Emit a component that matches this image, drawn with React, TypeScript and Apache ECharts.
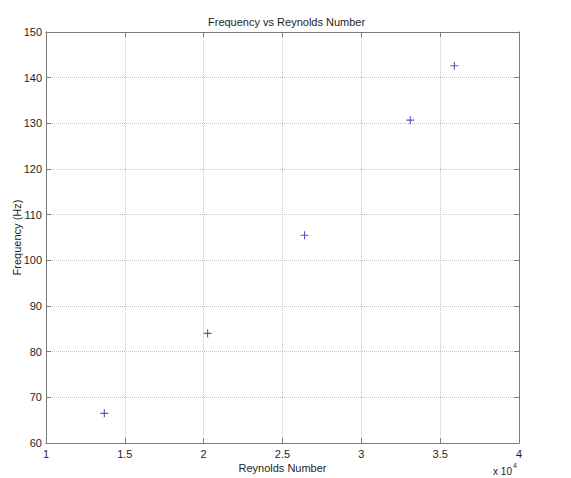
import React, { useEffect, useRef } from "react";
import * as echarts from "echarts";

const titleText = "Frequency vs Reynolds Number";
const xAxisName = "Reynolds Number";
const yAxisName = "Frequency (Hz)";
// Reynolds numbers (raw) and frequencies (Hz)
const reynolds = [13700, 20250, 26400, 33100, 35900];
const frequency = [66.5, 84.0, 105.5, 130.7, 142.6];
const xMin = 10000;
const xMax = 40000;
const xStep = 5000;
const yMin = 60;
const yMax = 150;
const yStep = 10;
const xScaleText = "x 10";
const xScaleExp = "4";

const PLUS = "path://M-0.14,-1H0.14V-0.14H1V0.14H0.14V1H-0.14V0.14H-1V-0.14H-0.14Z";

export default function App() {
  const ref = useRef<HTMLDivElement>(null);
  useEffect(() => {
    if (!ref.current) return;
    const chart = echarts.init(ref.current, undefined, { renderer: "svg" });
    const font = "Liberation Sans, Arial, sans-serif";
    const axisColor = "#7a7a7a";
    const textColor = "#1e1e1e";
    const gridLine = { show: true, lineStyle: { type: "dotted" as const, color: "#c4c4c4", width: 1 } };
    const baseX = {
      type: "value" as const,
      min: xMin,
      max: xMax,
      interval: xStep,
      axisLine: { show: true, onZero: false, lineStyle: { color: axisColor, width: 1 } },
      axisTick: { show: true, inside: true, length: 5, lineStyle: { color: axisColor } },
    };
    const baseY = {
      type: "value" as const,
      min: yMin,
      max: yMax,
      interval: yStep,
      axisLine: { show: true, onZero: false, lineStyle: { color: axisColor, width: 1 } },
      axisTick: { show: true, inside: true, length: 5, lineStyle: { color: axisColor } },
    };
    chart.setOption({
      animation: false,
      backgroundColor: "#ffffff",
      textStyle: { fontFamily: font },
      title: {
        text: titleText,
        left: 203,
        top: 11,
        textStyle: { fontSize: 11, fontWeight: "normal", color: textColor, fontFamily: font },
      },
      grid: { left: 46, right: 52, top: 32, bottom: 35, containLabel: false, outerBoundsMode: "none" },
      xAxis: [
        {
          ...baseX,
          position: "bottom",
          name: xAxisName,
          nameLocation: "middle",
          nameGap: 19,
          nameMoveOverlap: false,
          nameTextStyle: { fontSize: 11, color: textColor, fontFamily: font },
          axisLabel: {
            show: true,
            fontSize: 11,
            color: textColor,
            margin: 5,
            fontFamily: font,
            formatter: (v: number) => String(v / 10000),
          },
          splitLine: gridLine,
        },
        {
          ...baseX,
          position: "top",
          axisLabel: { show: false },
          splitLine: { show: false },
        },
      ],
      yAxis: [
        {
          ...baseY,
          position: "left",
          name: yAxisName,
          nameLocation: "middle",
          nameGap: 24,
          nameMoveOverlap: false,
          nameTextStyle: { fontSize: 11, color: textColor, fontFamily: font },
          axisLabel: { show: true, fontSize: 11, color: textColor, margin: 4, fontFamily: font },
          splitLine: gridLine,
        },
        {
          ...baseY,
          position: "right",
          axisLabel: { show: false },
          splitLine: { show: false },
        },
      ],
      graphic: [
        {
          type: "text",
          x: 512,
          y: 471,
          style: {
            text: xScaleText,
            fontSize: 10,
            fontFamily: font,
            fill: textColor,
            verticalAlign: "middle",
            align: "right",
          },
        },
        {
          type: "text",
          x: 513,
          y: 465,
          style: {
            text: xScaleExp,
            fontSize: 7,
            fontFamily: font,
            fill: textColor,
            verticalAlign: "middle",
            align: "left",
          },
        },
      ],
      series: [
        {
          type: "scatter",
          xAxisIndex: 0,
          yAxisIndex: 0,
          data: reynolds.map((r, i) => [r, frequency[i]]),
          symbol: PLUS,
          symbolSize: 8,
          itemStyle: { color: "#2a2ab8" },
          emphasis: { disabled: true },
        },
      ],
    });
    return () => chart.dispose();
  }, []);
  return (
    <div
      ref={ref}
      style={{ position: "fixed", left: 0, top: 0, width: 571, height: 478, background: "#fff" }}
    />
  );
}
